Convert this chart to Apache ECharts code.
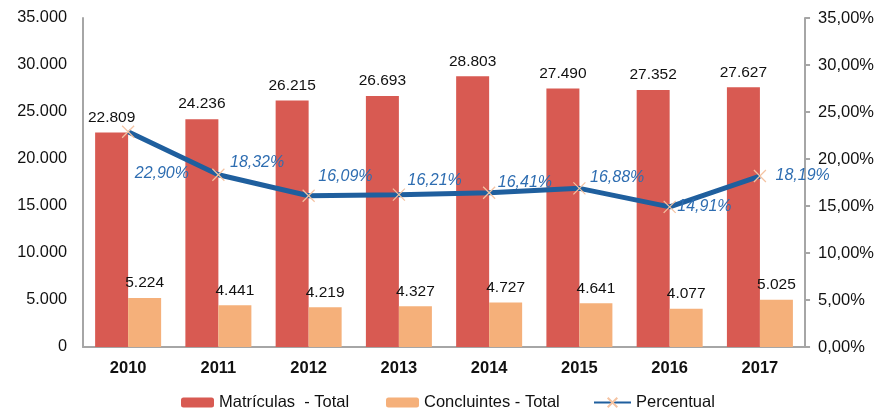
<!DOCTYPE html>
<html><head><meta charset="utf-8">
<script src="https://cdn.jsdelivr.net/npm/echarts@6/dist/echarts.min.js"></script>
<style>html,body{margin:0;padding:0;background:#fff}#c{width:877px;height:410px}</style>
</head><body><div id="c"></div>
<script>
const categories = ['2010','2011','2012','2013','2014','2015','2016','2017'];
const matriculas = [22809, 24236, 26215, 26693, 28803, 27490, 27352, 27627];
const concluintes = [5224, 4441, 4219, 4327, 4727, 4641, 4077, 5025];
const percentual = [22.90, 18.32, 16.09, 16.21, 16.41, 16.88, 14.91, 18.19];
const leftTicks = [0, 5000, 10000, 15000, 20000, 25000, 30000, 35000];
const rightTicks = [0, 5, 10, 15, 20, 25, 30, 35];

// label placement for the percent labels (style, not data)
const pctOffsets = [[-5,42],[0,-12],[-2,-19],[-3,-14],[-3,-10],[-1,-11],[-4,0],[4,0]];

const FONT = 'Liberation Sans, Arial, sans-serif';
const fmtThousands = v => String(v).replace(/\B(?=(\d{3})+(?!\d))/g, '.');
const fmtPct = v => v.toFixed(2).replace('.', ',') + '%';

const chart = echarts.init(document.getElementById('c'), null, {renderer: 'canvas'});
const crossPath = 'path://M0,0L10,10M10,0L0,10';
const legendText = {fontSize: 16.5, color: '#111', fontFamily: FONT};

chart.setOption({
  animation: false,
  textStyle: {fontFamily: FONT},
  grid: {left: 83, right: 71, top: 18, bottom: 63, containLabel: false},
  legend: [
    {data: ['Matrículas  - Total'], left: 181, top: 394, padding: 0, itemWidth: 33, itemHeight: 10, itemGap: 6,
     textStyle: legendText},
    {data: ['Concluintes - Total'], left: 386, top: 394, padding: 0, itemWidth: 33, itemHeight: 10,
     textStyle: legendText},
    {data: ['Percentual'], left: 593, top: 394, padding: 0, itemWidth: 37, itemHeight: 12,
     textStyle: legendText}
  ],
  xAxis: {
    type: 'category', data: categories,
    axisLine: {lineStyle: {color: '#A6A6A6', width: 2}},
    axisTick: {show: false},
    axisLabel: {fontSize: 16.5, fontWeight: 'bold', color: '#111', margin: 13, fontFamily: FONT}
  },
  yAxis: [
    {type: 'value', min: leftTicks[0], max: leftTicks[leftTicks.length-1], interval: 5000,
     axisLine: {show: true, lineStyle: {color: '#A6A6A6', width: 2}},
     axisTick: {show: false}, splitLine: {show: false},
     axisLabel: {fontSize: 16.3, color: '#111', margin: 16, formatter: v => fmtThousands(v), fontFamily: FONT}},
    {type: 'value', min: rightTicks[0], max: rightTicks[rightTicks.length-1], interval: 5,
     position: 'right',
     axisLine: {show: true, lineStyle: {color: '#A6A6A6', width: 2}},
     axisTick: {show: true, inside: false, length: 5, lineStyle: {color: '#A6A6A6', width: 2}},
     splitLine: {show: false},
     axisLabel: {fontSize: 16.5, color: '#111', margin: 13, formatter: v => fmtPct(v), fontFamily: FONT}}
  ],
  series: [
    {name: 'Matrículas  - Total', type: 'bar', data: matriculas, barWidth: 33, barGap: '0%',
     itemStyle: {color: '#D85A52'},
     label: {show: true, position: 'top', distance: 7, fontSize: 15.5, color: '#111',
             formatter: p => fmtThousands(p.value), fontFamily: FONT}},
    {name: 'Concluintes - Total', type: 'bar', data: concluintes, barWidth: 33,
     itemStyle: {color: '#F5B07A'},
     label: {show: true, position: 'top', distance: 7, fontSize: 15.5, color: '#111',
             formatter: p => fmtThousands(p.value), fontFamily: FONT}},
    {name: 'Percentual', type: 'line', yAxisIndex: 1, z: 5,
     data: percentual.map((v, i) => ({value: v, label: {offset: pctOffsets[i]}})),
     symbol: crossPath, symbolSize: 12, showAllSymbol: true,
     lineStyle: {color: '#1F5F9E', width: 5},
     itemStyle: {color: '#1F5F9E', borderColor: '#F4C3A2', borderWidth: 1.2},
     label: {show: true, position: 'right', distance: 5, fontSize: 16, fontStyle: 'italic',
             color: '#2E6DB1', formatter: p => fmtPct(p.value), fontFamily: FONT}}
  ]
});
</script>
</body></html>
